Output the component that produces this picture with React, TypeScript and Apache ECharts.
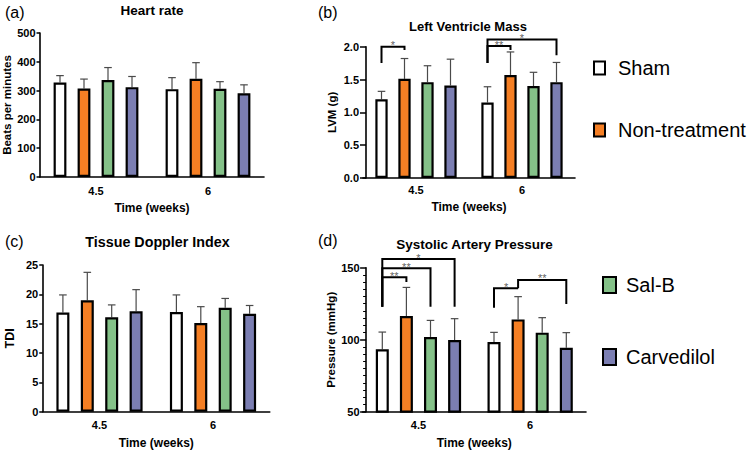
import React, { useEffect, useRef } from "react";
import * as echarts from "echarts";

// ---------- data ----------
const categories = ["4.5", "6"];
const groups = ["Sham", "Non-treatment", "Sal-B", "Carvedilol"];
const colors = ["#ffffff", "#F57F24", "#84C188", "#7B7EB2"];

// per group: [week 4.5, week 6]
const heartRateMean = [[328, 305], [307, 341], [337, 306], [312, 291]];
const heartRateSD = [[24, 40], [33, 56], [43, 25], [37, 29]];

const lvmMean = [[1.2, 1.15], [1.51, 1.57], [1.46, 1.4], [1.41, 1.46]];
const lvmSD = [[0.12, 0.24], [0.31, 0.35], [0.25, 0.21], [0.4, 0.3]];

const tdiMean = [[16.9, 17.0], [19.0, 15.1], [16.1, 17.7], [17.1, 16.7]];
const tdiSD = [[3.0, 2.9], [4.75, 2.8], [2.1, 1.6], [3.7, 1.4]];

const pressureMean = [[93.3, 98.4], [116.4, 114.1], [101.9, 104.9], [99.8, 94.4]];
const pressureSD = [[12.0, 6.7], [19.9, 15.8], [11.5, 10.4], [14.8, 10.5]];

// significance brackets: [category, fromGroup, toGroup, bracketLevel, leftLegBottom, rightLegBottom]
const lvmBrackets = [
  [0, 0, 1, 2.0, 1.75, 1.95],
  [1, 0, 1, 2.01, 1.75, 1.95],
  [1, 0, 3, 2.11, 1.75, 1.87],
];
const lvmBracketLabels = ["*", "**", "*"];

const pressureBrackets = [
  [0, 0, 1, 143.3, 122.9, 140.1],
  [0, 0, 2, 149.6, 122.9, 122.9],
  [0, 0, 3, 156.0, 122.9, 122.9],
  [1, 0, 1, 135.7, 122.2, 135.7],
  [1, 1, 3, 141.5, 135.7, 124.8],
];
const pressureBracketLabels = ["**", "**", "*", "*", "**"];

const FONT = "'Liberation Sans', Arial, Helvetica, sans-serif";

type PanelDef = {
  title: string;
  letter: string;
  yName: string;
  mean: number[][];
  sd: number[][];
  yMin: number;
  yMax: number;
  yInterval: number;
  decimals: number;
  brackets?: number[][];
  bracketLabels?: string[];
  minor?: boolean;
  layout: any;
};

const panels: PanelDef[] = [
  {
    title: "Heart rate",
    letter: "(a)",
    yName: "Beats per minutes",
    mean: heartRateMean,
    sd: heartRateSD,
    yMin: 0,
    yMax: 500,
    yInterval: 100,
    decimals: 0,
    layout: {
      grid: { left: 40, top: 33, width: 224, height: 144 },
      barWidth: 12.8, step: 24, yOffset: 0, tickLen: 3.5, labelMargin: 4.5,
      yNameGap: 26, yNameSize: 11.5, xLabelMargin: 8, xNameGap: 24.5,
      titleX: 152, titleY: 10, titleSize: 13.5, letterX: 5, letterY: 12,
    },
  },
  {
    title: "Left Ventricle Mass",
    letter: "(b)",
    yName: "LVM (g)",
    mean: lvmMean,
    sd: lvmSD,
    yMin: 0,
    yMax: 2,
    yInterval: 0.5,
    decimals: 1,
    brackets: lvmBrackets,
    bracketLabels: lvmBracketLabels,
    layout: {
      grid: { left: 363, top: 46.7, width: 212, height: 131.3 },
      barWidth: 12.3, step: 23, yOffset: -3, tickLen: 6, labelMargin: 7,
      yNameGap: 28, yNameSize: 11.5, xLabelMargin: 6.5, xNameGap: 22.5,
      titleX: 468, titleY: 26, titleSize: 13, letterX: 318, letterY: 12,
    },
  },
  {
    title: "Tissue Doppler Index",
    letter: "(c)",
    yName: "TDI",
    mean: tdiMean,
    sd: tdiSD,
    yMin: 0,
    yMax: 25,
    yInterval: 5,
    decimals: 0,
    layout: {
      grid: { left: 42.75, top: 265, width: 227, height: 146.7 },
      barWidth: 13, step: 24.4, yOffset: 0, tickLen: 3.5, labelMargin: 4.5,
      yNameGap: 26, yNameSize: 12.5, xLabelMargin: 8, xNameGap: 25,
      titleX: 157.5, titleY: 241.5, titleSize: 14.3, letterX: 5, letterY: 241,
    },
  },
  {
    title: "Systolic Artery Pressure",
    letter: "(d)",
    yName: "Pressure (mmHg)",
    mean: pressureMean,
    sd: pressureSD,
    yMin: 50,
    yMax: 150,
    yInterval: 50,
    decimals: 0,
    brackets: pressureBrackets,
    bracketLabels: pressureBracketLabels,
    minor: true,
    layout: {
      grid: { left: 362.6, top: 267.7, width: 223.4, height: 144 },
      barWidth: 13, step: 24.1, yOffset: -3.5, tickLen: 6, labelMargin: 6.5,
      yNameGap: 26.5, yNameSize: 11.5, xLabelMargin: 8, xNameGap: 25,
      titleX: 474.5, titleY: 244, titleSize: 13.5, letterX: 318, letterY: 240,
    },
  },
];

function buildOption() {
  const grid: any[] = [];
  const xAxis: any[] = [];
  const yAxis: any[] = [];
  const series: any[] = [];
  const graphic: any[] = [];

  panels.forEach((p, pi) => {
    const L = p.layout;
    grid.push({ ...L.grid, containLabel: false });
    xAxis.push({
      type: "category",
      gridIndex: pi,
      data: categories,
      name: "Time (weeks)",
      nameLocation: "middle",
      nameGap: L.xNameGap,
      nameTextStyle: { fontFamily: FONT, fontWeight: "bold", fontSize: 12, color: "#000" },
      axisLine: { lineStyle: { color: "#000", width: 1.6 } },
      axisTick: { alignWithLabel: true, length: 4, lineStyle: { color: "#000", width: 1.5 } },
      axisLabel: { fontFamily: FONT, fontWeight: "bold", fontSize: 11, color: "#000", margin: L.xLabelMargin },
      splitLine: { show: false },
    });
    yAxis.push({
      type: "value",
      gridIndex: pi,
      min: p.yMin,
      max: p.yMax,
      interval: p.yInterval,
      offset: L.yOffset,
      name: p.yName,
      nameLocation: "middle",
      nameGap: L.yNameGap,
      nameTextStyle: { fontFamily: FONT, fontWeight: "bold", fontSize: L.yNameSize, color: "#000" },
      axisLine: { show: true, lineStyle: { color: "#000", width: 1.6 } },
      axisTick: { show: true, length: L.tickLen, lineStyle: { color: "#000", width: 1.5 } },
      minorTick: p.minor
        ? { show: true, splitNumber: 10, length: 3, lineStyle: { color: "#000", width: 1 } }
        : { show: false },
      axisLabel: {
        fontFamily: FONT,
        fontWeight: "bold",
        fontSize: 11,
        color: "#000",
        margin: L.labelMargin,
        formatter: (v: number) => v.toFixed(p.decimals),
      },
      splitLine: { show: false },
      minorSplitLine: { show: false },
    });

    // error bars (drawn first so bar borders sit on top)
    const errData: number[][] = [];
    p.mean.forEach((row, g) => {
      row.forEach((m, c) => {
        errData.push([c, m, m + p.sd[g][c], g]);
      });
    });
    const step = L.step;
    series.push({
      type: "custom",
      xAxisIndex: pi,
      yAxisIndex: pi,
      z: 1,
      silent: true,
      itemStyle: { color: "#4a4a4a" },
      data: errData,
      encode: { x: 0, y: [1, 2] },
      renderItem: (params: any, api: any) => {
        const c = api.value(0);
        const lo = api.value(1);
        const hi = api.value(2);
        const g = api.value(3);
        const pLo = api.coord([c, lo]);
        const pHi = api.coord([c, hi]);
        const x = pLo[0] + (g - 1.5) * step;
        const st = { stroke: "#4a4a4a", lineWidth: 1.2 };
        return {
          type: "group",
          children: [
            { type: "line", shape: { x1: x, y1: pLo[1], x2: x, y2: pHi[1] }, style: st },
            { type: "line", shape: { x1: x - 3.8, y1: pHi[1], x2: x + 3.8, y2: pHi[1] }, style: st },
          ],
        };
      },
    });

    groups.forEach((name, g) => {
      series.push({
        type: "bar",
        name,
        xAxisIndex: pi,
        yAxisIndex: pi,
        z: 2,
        data: p.mean[g],
        barWidth: L.barWidth,
        barGap: `${((L.step - L.barWidth) / L.barWidth) * 100}%`,
        itemStyle: { color: colors[g], borderColor: "#000", borderWidth: 2.2 },
        emphasis: { disabled: true },
      });
    });

    if (p.brackets) {
      const labels = p.bracketLabels || [];
      const brackets = p.brackets;
      series.push({
        type: "custom",
        xAxisIndex: pi,
        yAxisIndex: pi,
        z: 3,
        silent: true,
        itemStyle: { color: "#000" },
        data: brackets,
        encode: { x: 0, y: 3 },
        renderItem: (params: any, api: any) => {
          const c = api.value(0);
          const from = api.value(1);
          const to = api.value(2);
          const lvl = api.value(3);
          const lb = api.value(4);
          const rb = api.value(5);
          const top = api.coord([c, lvl]);
          const pl = api.coord([c, lb]);
          const pr = api.coord([c, rb]);
          const xl = top[0] + (from - 1.5) * step;
          const xr = top[0] + (to - 1.5) * step;
          return {
            type: "polyline",
            shape: { points: [[xl, pl[1]], [xl, top[1]], [xr, top[1]], [xr, pr[1]]] },
            style: { stroke: "#000", lineWidth: 2, fill: null },
          };
        },
      });
      // significance stars as labels of invisible points at each bracket's level
      series.push({
        type: "scatter",
        xAxisIndex: pi,
        yAxisIndex: pi,
        z: 4,
        silent: true,
        symbolSize: 0,
        clip: false,
        data: brackets.map((b, i) => ({
          value: [b[0], b[3]],
          label: {
            show: true,
            position: "inside",
            formatter: labels[i],
            offset: [((b[1] + b[2]) / 2 - 1.5) * step, -1.5],
            color: "#333",
            fontSize: 11,
            fontFamily: FONT,
          },
        })),
      });
    }

    graphic.push({
      type: "text",
      x: L.titleX,
      y: L.titleY,
      style: {
        text: p.title,
        align: "center",
        verticalAlign: "middle",
        textAlign: "center",
        textVerticalAlign: "middle",
        fontFamily: FONT,
        fontWeight: "bold",
        fontSize: L.titleSize,
        fill: "#000",
      },
    });
    graphic.push({
      type: "text",
      x: L.letterX,
      y: L.letterY,
      style: {
        text: p.letter,
        align: "left",
        verticalAlign: "middle",
        textAlign: "left",
        textVerticalAlign: "middle",
        fontFamily: FONT,
        fontSize: 16,
        fill: "#000",
      },
    });
  });

  const legendBase = (name: string, left: number, top: number, w: number, h: number, pad: number) => ({
    data: [name],
    left,
    top,
    padding: 0,
    orient: "vertical",
    icon: "rect",
    itemWidth: w,
    itemHeight: h,
    selectedMode: false,
    itemStyle: { borderColor: "#000", borderWidth: 2 },
    textStyle: { fontFamily: FONT, fontSize: 20, color: "#000", padding: [0, 0, 0, pad] },
  });

  return {
    animation: false,
    backgroundColor: "#fff",
    grid,
    xAxis,
    yAxis,
    series,
    graphic,
    legend: [
      legendBase("Sham", 593, 58, 11, 13, 8),
      legendBase("Non-treatment", 593, 120, 11, 13, 8),
      legendBase("Sal-B", 602, 275, 13, 16, 5),
      legendBase("Carvedilol", 602, 347, 13, 16, 5),
    ],
  };
}

export default function App() {
  const ref = useRef<HTMLDivElement>(null);
  useEffect(() => {
    if (!ref.current) return;
    const chart = echarts.init(ref.current, undefined, { renderer: "svg" });
    chart.setOption(buildOption() as any);
    return () => chart.dispose();
  }, []);
  return (
    <div
      ref={ref}
      style={{ position: "absolute", left: 0, top: 0, width: 751, height: 452, background: "#fff" }}
    />
  );
}
